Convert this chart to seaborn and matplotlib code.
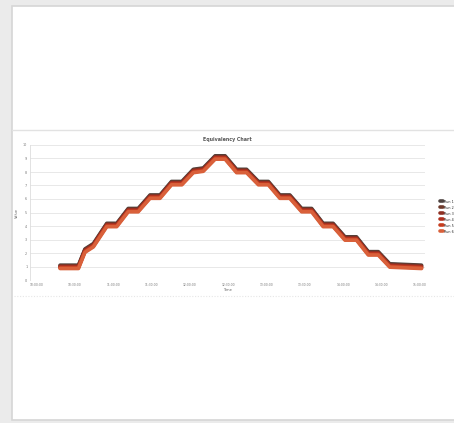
import matplotlib
matplotlib.use("Agg")
import matplotlib.pyplot as plt
from matplotlib.patches import Rectangle
import pandas as pd
import seaborn as sns

# Elapsed time (hours) at each vertex of the ramp profile
time_h = [0.61, 1.09, 1.26, 1.48, 1.83, 2.09, 2.39, 2.65, 2.96, 3.22, 3.52,
          3.79, 4.09, 4.35, 4.66, 4.92, 5.22, 5.48, 5.79, 6.05, 6.35, 6.61,
          6.92, 7.18, 7.48, 7.74, 8.05, 8.35, 8.66, 8.92, 9.22, 10.05]

# Recorded values for each run
run_1 = [1.10, 1.10, 2.30, 2.70, 4.20, 4.20, 5.30, 5.30, 6.30, 6.30, 7.30,
         7.30, 8.20, 8.30, 9.20, 9.20, 8.20, 8.20, 7.30, 7.30, 6.30, 6.30,
         5.30, 5.30, 4.20, 4.20, 3.20, 3.20, 2.10, 2.10, 1.20, 1.10]
run_2 = [1.05, 1.05, 2.25, 2.65, 4.15, 4.15, 5.25, 5.25, 6.25, 6.25, 7.25,
         7.25, 8.15, 8.25, 9.15, 9.15, 8.15, 8.15, 7.25, 7.25, 6.25, 6.25,
         5.25, 5.25, 4.15, 4.15, 3.15, 3.15, 2.05, 2.05, 1.15, 1.05]
run_3 = [1.00, 1.00, 2.20, 2.60, 4.10, 4.10, 5.20, 5.20, 6.20, 6.20, 7.20,
         7.20, 8.10, 8.20, 9.10, 9.10, 8.10, 8.10, 7.20, 7.20, 6.20, 6.20,
         5.20, 5.20, 4.10, 4.10, 3.10, 3.10, 2.00, 2.00, 1.10, 1.00]
run_4 = [0.95, 0.95, 2.15, 2.55, 4.05, 4.05, 5.15, 5.15, 6.15, 6.15, 7.15,
         7.15, 8.05, 8.15, 9.05, 9.05, 8.05, 8.05, 7.15, 7.15, 6.15, 6.15,
         5.15, 5.15, 4.05, 4.05, 3.05, 3.05, 1.95, 1.95, 1.05, 0.95]
run_5 = [0.90, 0.90, 2.10, 2.50, 4.00, 4.00, 5.10, 5.10, 6.10, 6.10, 7.10,
         7.10, 8.00, 8.10, 9.00, 9.00, 8.00, 8.00, 7.10, 7.10, 6.10, 6.10,
         5.10, 5.10, 4.00, 4.00, 3.00, 3.00, 1.90, 1.90, 1.00, 0.90]
run_6 = [0.85, 0.85, 2.05, 2.45, 3.95, 3.95, 5.05, 5.05, 6.05, 6.05, 7.05,
         7.05, 7.95, 8.05, 8.95, 8.95, 7.95, 7.95, 7.05, 7.05, 6.05, 6.05,
         5.05, 5.05, 3.95, 3.95, 2.95, 2.95, 1.85, 1.85, 0.95, 0.85]

run_names = ["Run 1", "Run 2", "Run 3", "Run 4", "Run 5", "Run 6"]
x_tick_labels = ["10:00:00", "10:30:00", "11:00:00", "11:30:00", "12:00:00",
                 "12:30:00", "13:00:00", "13:30:00", "14:00:00", "14:30:00",
                 "15:00:00"]
y_ticks = [0, 1, 2, 3, 4, 5, 6, 7, 8, 9, 10]

runs = [run_1, run_2, run_3, run_4, run_5, run_6]
df = pd.concat(
    [pd.DataFrame({"Time": time_h, "Value": vals, "Run": name})
     for name, vals in zip(run_names, runs)],
    ignore_index=True,
)

sns.set_theme(style="white")
plt.rcParams["font.family"] = ["DejaVu Sans"]

W, H = 454, 423
fig = plt.figure(figsize=(W / 100, H / 100), dpi=100, facecolor="#ebebeb")

# White page panel (runs off the right edge) and its chart frame
fig.patches.append(Rectangle((12 / W, 1 - 420 / H), (W + 20) / W, 414 / H,
                             transform=fig.transFigure, facecolor="white",
                             edgecolor="#d6d6d6", linewidth=1.2, zorder=-5))
fig.add_artist(plt.Line2D([12 / W, 1], [1 - 130 / H] * 2, color="#e2e2e2",
                          linewidth=1.0, transform=fig.transFigure, zorder=-4))
fig.add_artist(plt.Line2D([14 / W, 1], [1 - 296 / H] * 2, color="#e6e6e6",
                          linewidth=0.8, linestyle=(0, (1, 1.5)),
                          transform=fig.transFigure, zorder=-4))

ax = fig.add_axes([30 / W, 1 - 280 / H, 395 / W, 135 / H])
ax.set_zorder(2)
ax.set_facecolor("none")

palette = ["#4d4340", "#6e3a2c", "#8e2f22", "#b0301f", "#c63d1f", "#d9603a"]
sns.lineplot(data=df, x="Time", y="Value", hue="Run", palette=palette,
             sort=False, estimator=None, linewidth=2.6, ax=ax, zorder=3)

ax.set_xlim(-0.175, 10.14)
ax.set_ylim(0, 10)
ax.set_xticks(range(11))
ax.set_xticklabels(x_tick_labels, fontsize=2.2, color="#777777")
ax.set_yticks(y_ticks)
ax.set_yticklabels([str(v) for v in y_ticks], fontsize=2.4, color="#777777")
ax.tick_params(length=0, pad=2)
ax.grid(axis="y", color="#e4e4e4", linewidth=0.6)
for side in ["top", "right", "bottom"]:
    ax.spines[side].set_visible(False)
ax.spines["left"].set_color("#dddddd")
ax.spines["left"].set_linewidth(0.6)

ax.set_xlabel("Time", fontsize=2.6, color="#666666", labelpad=1)
ax.set_ylabel("Value", fontsize=2.6, color="#666666", labelpad=3)
ax.set_title("Equivalency Chart", fontsize=3.4, color="#555555",
             fontweight="bold", pad=3)

ax.legend(loc="center left", bbox_to_anchor=(1.035, 0.47), frameon=False,
          fontsize=2.4, handlelength=0.8, labelspacing=0.6, borderpad=0,
          handletextpad=0.3)

fig.savefig("out.png", dpi=100, facecolor=fig.get_facecolor())
